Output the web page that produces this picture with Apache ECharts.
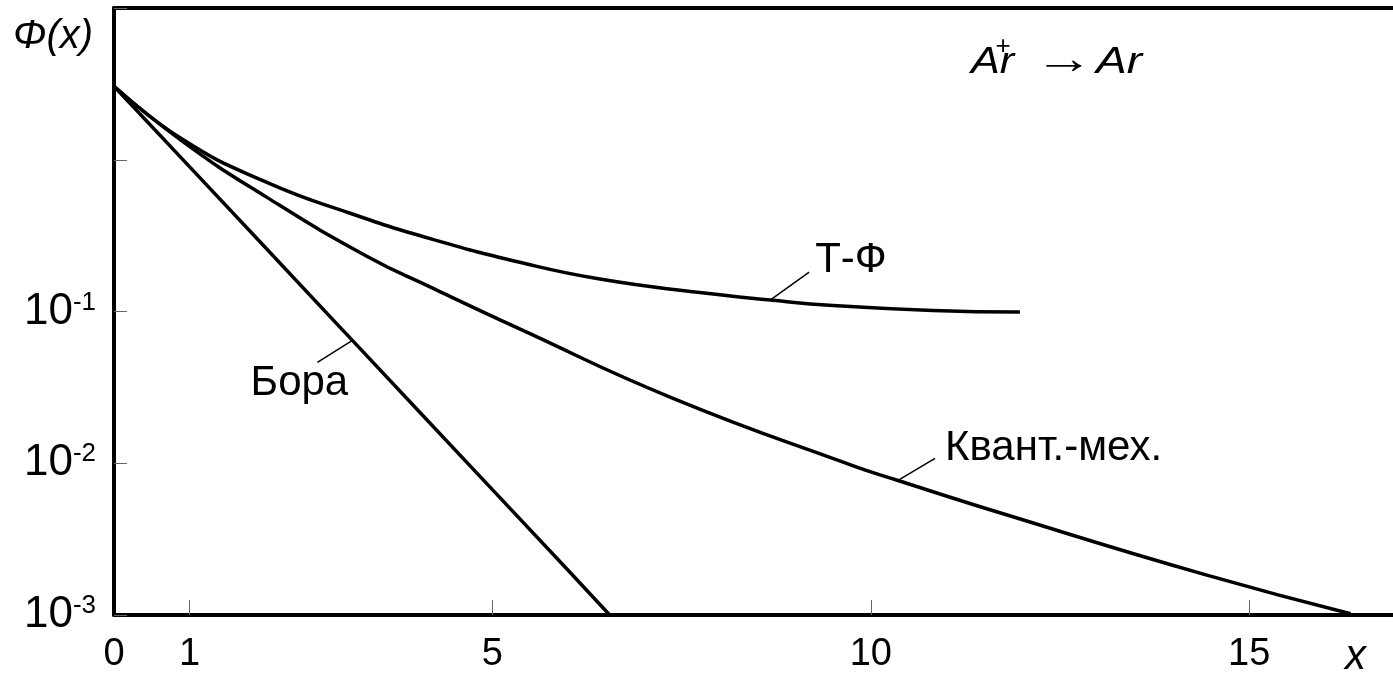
<!DOCTYPE html>
<html>
<head>
<meta charset="utf-8">
<script src="https://cdn.jsdelivr.net/npm/echarts@6/dist/echarts.min.js"></script>
<style>
  html, body { margin: 0; padding: 0; background: #fff; }
  #chart { width: 1393px; height: 674px; }
</style>
</head>
<body>
<div id="chart"></div>
<script>
// Screening function Φ(x) for Ar+ → Ar, three models
const xTickValues = [1, 5, 10, 15];
const xTickLabels = [0, 1, 5, 10, 15];
const yLabelExponents = [-1, -2, -3];

const bohr = [
  [0, 3.05], [1, 0.897], [2, 0.264], [3, 0.0774], [3.15, 0.0645],
  [4, 0.0228], [5, 0.0067], [6, 0.00197], [6.55, 0.001]
];
const thomasFermi = [
  [0, 3.05], [0.91, 1.358], [2.02, 0.709], [3.12, 0.444], [4.21, 0.299],
  [5.36, 0.211], [6.42, 0.1635], [7.74, 0.1333], [8.67, 0.119], [9.5, 0.1095],
  [10.82, 0.1015], [11.97, 0.0992]
];
const quantum = [
  [0, 3.05], [0.91, 1.318], [2.02, 0.565], [3.34, 0.2314], [4.21, 0.1426],
  [5.36, 0.0768], [7.37, 0.027], [9.76, 0.00966], [10.36, 0.0077], [11.77, 0.00461],
  [14.44, 0.00183], [16.34, 0.00102]
];

const FONT = "'Liberation Sans', Arial, sans-serif";
const XMAX = 16.9;

const chart = echarts.init(document.getElementById('chart'));

const curve = (name, data, smooth) => ({
  name, type: 'line', data, smooth, symbol: 'none', silent: true,
  lineStyle: { color: '#000', width: 3.5 }
});

chart.setOption({
  animation: false,
  backgroundColor: '#fff',
  grid: { left: 114, right: 0, top: 8, bottom: 57, containLabel: false },
  xAxis: [{
    type: 'value', min: 0, max: XMAX,
    axisLine: { show: true, onZero: false, lineStyle: { color: '#000', width: 4 } },
    axisTick: { show: true, inside: true, length: 15, customValues: xTickValues,
                lineStyle: { color: '#666', width: 1 } },
    axisLabel: { customValues: xTickLabels, margin: 21, fontSize: 38,
                 fontFamily: FONT, color: '#000' },
    splitLine: { show: false }
  }, {
    type: 'value', position: 'top', min: 0, max: XMAX,
    axisLine: { show: true, lineStyle: { color: '#000', width: 4 } },
    axisTick: { show: false }, axisLabel: { show: false }, splitLine: { show: false }
  }],
  yAxis: {
    type: 'log', logBase: 10, min: 0.001, max: 10, splitNumber: 4,
    axisLine: { show: true, onZero: false, lineStyle: { color: '#000', width: 4 } },
    axisTick: { show: true, inside: true, length: 13, lineStyle: { color: '#666', width: 1 } },
    axisLabel: {
      margin: 18,
      formatter: v => {
        const e = Math.round(Math.log10(v));
        return yLabelExponents.includes(e) ? '{b|10}{s|' + e + '}' : '';
      },
      rich: {
        b: { fontSize: 44, lineHeight: 44, fontFamily: FONT, color: '#000' },
        s: { fontSize: 26, lineHeight: 20, verticalAlign: 'top', fontFamily: FONT, color: '#000' }
      }
    },
    splitLine: { show: false }
  },
  series: [
    curve('Бора', bohr, false),
    curve('Т-Ф', thomasFermi, 0.5),
    curve('Квант.-мех.', quantum, 0.5)
  ]
});

// Curve captions with short leader lines, anchored at a point of each curve
const captions = [
  { seriesIndex: 1, data: thomasFermi, atX: 8.67, text: 'Т-Ф',
    lead: [39, -28], pos: [45, -40], align: 'left' },
  { seriesIndex: 0, data: bohr, atX: 3.15, text: 'Бора',
    lead: [-35, 22], pos: [-53, 43], align: 'center' },
  { seriesIndex: 2, data: quantum, atX: 10.36, text: 'Квант.-мех.',
    lead: [37, -22], pos: [47, -32], align: 'left' }
];

const graphics = [];
captions.forEach(c => {
  const pt = c.data.find(d => d[0] === c.atX);
  const [px, py] = chart.convertToPixel({ seriesIndex: c.seriesIndex }, pt);
  graphics.push({
    type: 'line', silent: true,
    shape: { x1: px, y1: py, x2: px + c.lead[0], y2: py + c.lead[1] },
    style: { stroke: '#000', lineWidth: 1.5 }
  });
  graphics.push({
    type: 'text', silent: true, x: px + c.pos[0], y: py + c.pos[1],
    style: { text: c.text, fontSize: 42, fontFamily: FONT, fill: '#000',
             align: c.align, verticalAlign: 'middle' }
  });
});

// Axis titles and reaction label
const plainText = (text, x, y, size, italic, align, scaleX) => ({
  type: 'text', silent: true, x, y, scaleX: scaleX || 1,
  style: { text, fontSize: size, fontFamily: FONT, fontStyle: italic ? 'italic' : 'normal',
           fill: '#000', align: align || 'left', verticalAlign: 'middle' }
});
graphics.push(plainText('Φ(x)', 13, 37, 40, true));
graphics.push(plainText('x', 1345, 657, 42, true));
graphics.push(plainText('Ar', 971, 63, 36, true, 'left', 1.2));
graphics.push(plainText('+', 1003, 47, 26, false, 'center'));
graphics.push(plainText('→', 1064, 61, 44, false, 'center', 1.35));
graphics.push(plainText('Ar', 1096, 63, 36, true, 'left', 1.28));

chart.setOption({ graphic: graphics });
</script>
</body>
</html>
